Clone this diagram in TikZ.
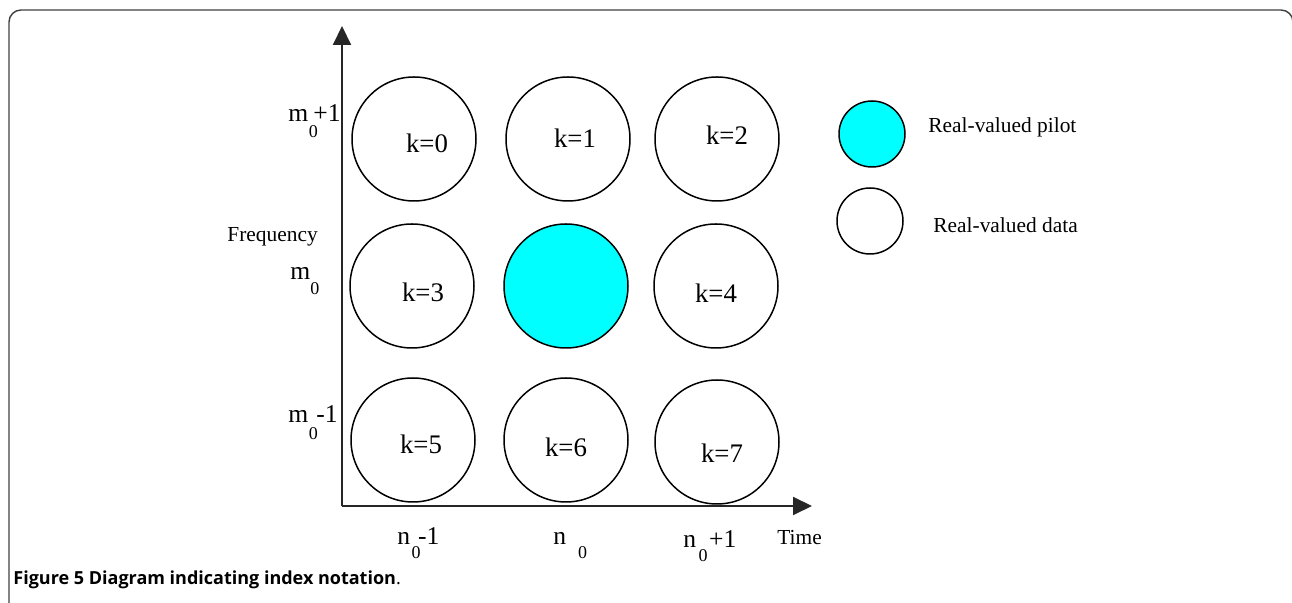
\documentclass[tikz,border=0pt]{standalone}
\usepackage{fontspec}
\setmainfont{Liberation Serif}
\newfontfamily\capfont{Open Sans}
\usetikzlibrary{arrows.meta}
\definecolor{pilotcyan}{RGB}{0,255,255}
\newcommand{\lowz}[1]{\makebox[0pt]{\raisebox{#1}{\fontsize{9}{9}\selectfont 0}}}

\begin{document}
\begin{tikzpicture}[x=0.5pt,y=-0.5pt,
    cell/.style={draw,circle,line width=0.75pt,minimum size=62pt,inner sep=0pt},
    key/.style={draw,circle,line width=0.75pt,minimum size=33pt,inner sep=0pt},
    klabel/.style={font=\fontsize{13.4}{16}\selectfont,inner sep=0pt},
    tick/.style={font=\fontsize{12.8}{15}\selectfont,inner sep=0pt,anchor=base west},
    small/.style={font=\fontsize{10.7}{13}\selectfont,inner sep=0pt,anchor=base west},
    axis/.style={line width=1pt,draw=black!85,-{Triangle[length=9.5pt,width=9pt]}}]
                \useasboundingbox (0,0) rectangle (1292,603);
                \draw[line width=0.7pt,draw=black!75,rounded corners=6pt] (9,603) -- (9,10) -- (1293,10) -- (1293,603);
                % axes
                \coordinate (O) at (342,506);
                \coordinate (ytip) at (342,26);
                \coordinate (xtip) at (812,506);
                \draw[axis] (O) -- (ytip);
                \draw[axis] (O) -- (xtip);
                % grid of symbols
                \node[cell] (c0) at (414,139) {};
                \node[cell] (c1) at (568,139) {};
                \node[cell] (c2) at (717,139) {};
                \node[cell] (c3) at (412,286) {};
                \node[cell,fill=pilotcyan] (cp) at (566,286) {};
                \node[cell] (c4) at (716,286) {};
                \node[cell] (c5) at (413,440) {};
                \node[cell] (c6) at (566,440) {};
                \node[cell] (c7) at (717,442) {};
                \node[klabel] (k0) at (427,143) {k=0};
                \node[klabel] (k1) at (575,138) {k=1};
                \node[klabel] (k2) at (727,135) {k=2};
                \node[klabel] (k3) at (423,292) {k=3};
                \node[klabel] (k4) at (716,293) {k=4};
                \node[klabel] (k5) at (421,444) {k=5};
                \node[klabel] (k6) at (566,447) {k=6};
                \node[klabel] (k7) at (722,453) {k=7};
                % axis labels
                \node[tick] (mtop) at (288,122) {m\hspace{2.5pt}\lowz{-8pt}+1};
                \node[tick] (mmid) at (290,280) {m\raisebox{-7.5pt}{\fontsize{9}{9}\selectfont 0}};
                \node[tick] (mbot) at (288,423) {m\hspace{2.5pt}\lowz{-8.5pt}\hspace{1.5pt}-1};
                \node[small] (freq) at (227,242) {Frequency};
                \node[tick] (nleft) at (397,545) {n\hspace{3pt}\lowz{-7pt}\hspace{1pt}-1};
                \node[tick] (nmid) at (553,545) {n\hspace{6pt}\raisebox{-7pt}{\fontsize{9}{9}\selectfont 0}};
                \node[tick] (nright) at (683,548) {n\hspace{3.5pt}\lowz{-7pt}\hspace{3pt}+1};
                \node[small] (time) at (777,545) {Time};
                % legend
                \node[key,fill=pilotcyan] (kpilot) at (872,134) {};
                \node[key] (kdata) at (870,221) {};
                \node[small] (lpilot) at (928,133) {Real-valued pilot};
                \node[small] (ldata) at (933,233) {Real-valued data};
                % caption
                \node[anchor=base west,inner sep=0pt,font=\capfont\fontsize{9}{11}\selectfont] (cap) at (13,585) {\bfseries Figure 5 Diagram indicating index notation\mdseries.};
            \end{tikzpicture}
\end{document}
